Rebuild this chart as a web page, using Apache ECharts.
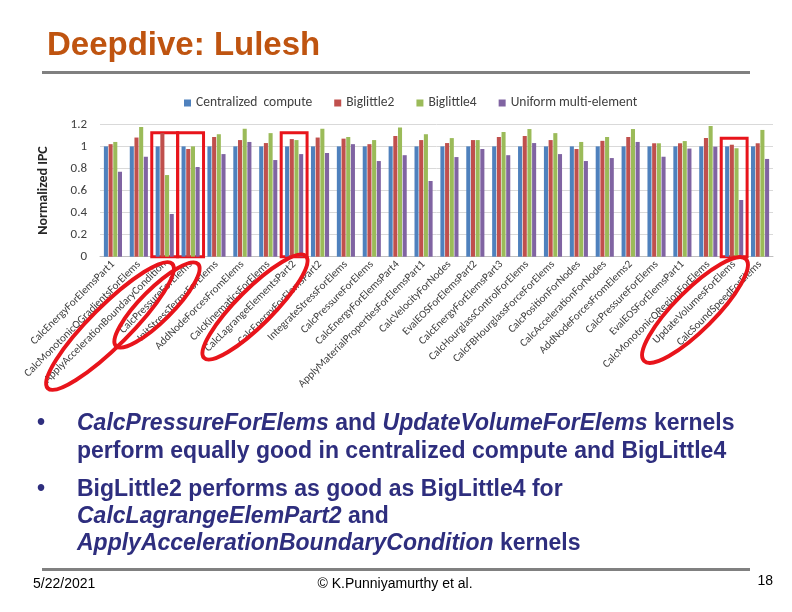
<!DOCTYPE html>
<html>
<head>
<meta charset="utf-8">
<script src="https://cdn.jsdelivr.net/npm/echarts@6/dist/echarts.min.js"></script>
<style>
html,body{margin:0;padding:0;background:#fff;}
#chart{width:792px;height:612px;}
</style>
</head>
<body>
<div id="chart"></div>
<script>
var categories = [
  'CalcEnergyForElemsPart1','CalcMonotonicQGradientsForElems','ApplyAccelerationBoundaryCondition',
  'CalcPressureForElems','InitStressTermsForElems','AddNodeForcesFromElems','CalcKinematicsForElems',
  'CalcLagrangeElementsPart2','CalcEnergyForElemsPart2','IntegrateStressForElems','CalcPressureForElems',
  'CalcEnergyForElemsPart4','ApplyMaterialPropertiesForElemsPart1','CalcVelocityForNodes',
  'EvalEOSForElemsPart2','CalcEnergyForElemsPart3','CalcHourglassControlForElems',
  'CalcFBHourglassForceForElems','CalcPositionForNodes','CalcAccelerationForNodes',
  'AddNodeForcesFromElems2','CalcPressureForElems','EvalEOSForElemsPart1',
  'CalcMonotonicQRegionForElems','UpdateVolumesForElems','CalcSoundSpeedForElems'
];
var seriesNames = ['Centralized  compute','Biglittle2','Biglittle4','Uniform multi-element'];
var centralized = [1,1,1,1,1,1,1,1,1,1,1,1,1,1,1,1,1,1,1,1,1,1,1,1,1,1];
var biglittle2 = [1.02,1.08,1.12,0.976,1.085,1.057,1.03,1.066,1.08,1.07,1.02,1.094,1.057,1.03,1.057,1.085,1.094,1.057,0.976,1.05,1.085,1.028,1.028,1.076,1.015,1.028];
var biglittle4 = [1.04,1.175,0.74,1.0,1.11,1.16,1.12,1.057,1.16,1.085,1.057,1.17,1.11,1.075,1.057,1.13,1.157,1.12,1.04,1.085,1.157,1.028,1.048,1.185,0.983,1.149];
var uniform = [0.77,0.906,0.387,0.813,0.93,1.04,0.876,0.93,0.94,1.02,0.867,0.92,0.686,0.903,0.976,0.92,1.03,0.93,0.867,0.894,1.04,0.906,0.98,0.997,0.514,0.886];
var yTicks = {min:0, max:1.2, interval:0.2};
var highlighted = [2, 3, 7, 24];
var highlightTop = [1.124, 1.124, 1.124, 1.073];

var colors = ['#4F81BD','#C0504D','#9BBB59','#8064A2'];
var RED = '#E8141B';
var NAVY = '#2E2E7E';
var LBL = 'Carlito, Lato, sans-serif';

var chart = echarts.init(document.getElementById('chart'), null, {renderer:'canvas'});

var boxData = highlighted.map(function(idx, k){
  return [{xAxis: idx, yAxis: highlightTop[k]}, {xAxis: idx, yAxis: 0}];
});

function bar(name, data, color, withBoxes){
  var s = {
    name: name, type: 'bar', data: data,
    barGap: '15%', barCategoryGap: '30%',
    itemStyle: {color: color},
    emphasis: {disabled: true},
    animation: false
  };
  if (withBoxes) {
    s.markArea = {
      silent: true,
      itemStyle: {color: 'rgba(0,0,0,0)', borderColor: RED, borderWidth: 3},
      label: {show: false},
      data: boxData
    };
  }
  return s;
}

var bulletFont = {fontFamily: '"Liberation Sans", Arial, sans-serif', fontSize: 23, fontWeight: 'bold'};
function txt(x, y, text, extra){
  var st = Object.assign({
    text: text, fill: NAVY, textAlign: 'left', textVerticalAlign: 'middle',
    rich: {i: Object.assign({fontStyle: 'italic', fill: NAVY}, bulletFont),
           n: Object.assign({fill: NAVY}, bulletFont)}
  }, bulletFont, extra || {});
  return {type: 'text', x: x, y: y, silent: true, style: st};
}
function ell(cx, cy, rx, ry){
  return {type: 'ellipse', x: cx, y: cy, rotation: Math.PI/4, silent: true, z: 100,
          shape: {cx: 0, cy: 0, rx: rx, ry: ry},
          style: {fill: null, stroke: RED, lineWidth: 4}};
}
var footFont = '"Liberation Sans Narrow", "Liberation Sans", Arial, sans-serif';

var option = {
  animation: false,
  textStyle: {fontFamily: LBL},
  legend: {
    top: 91, left: 179,
    icon: 'rect', itemWidth: 7, itemHeight: 7, itemGap: 22,
    textStyle: {fontSize: 13.5, color: '#404040', fontFamily: LBL},
    data: seriesNames
  },
  grid: {left: 100, right: 19, top: 124.3, bottom: 355.3, containLabel: false},
  xAxis: {
    type: 'category', data: categories,
    axisTick: {show: false},
    axisLine: {lineStyle: {color: '#BFBFBF'}},
    axisLabel: {interval: 0, rotate: 45, fontSize: 11, color: '#404040', margin: 6, fontFamily: LBL}
  },
  yAxis: {
    type: 'value', min: yTicks.min, max: yTicks.max, interval: yTicks.interval,
    name: 'Normalized IPC', nameLocation: 'middle', nameGap: 50, nameRotate: 90,
    nameTextStyle: {fontWeight: 'bold', fontSize: 14, color: '#262626', fontFamily: LBL},
    axisLine: {show: false}, axisTick: {show: false},
    axisLabel: {fontSize: 13, color: '#404040', margin: 13, fontFamily: LBL},
    splitLine: {lineStyle: {color: '#D9D9D9'}}
  },
  series: [
    bar(seriesNames[0], centralized, colors[0], true),
    bar(seriesNames[1], biglittle2, colors[1]),
    bar(seriesNames[2], biglittle4, colors[2]),
    bar(seriesNames[3], uniform, colors[3])
  ],
  graphic: [
    {type: 'text', x: 47, y: 46, silent: true,
     style: {text: 'Deepdive: Lulesh', fill: '#BF5410', textAlign: 'left', textVerticalAlign: 'middle',
             fontFamily: '"Liberation Sans", Arial, sans-serif', fontSize: 33, fontWeight: 'bold'}},
    {type: 'rect', silent: true, shape: {x: 42, y: 71, width: 708, height: 3}, style: {fill: '#808080'}},
    ell(110, 326, 88, 20),
    ell(157, 305, 58, 16),
    ell(255, 307, 72, 18),
    ell(695, 310, 72, 20),
    txt(37, 424, '•'),
    txt(77, 424, '{i|CalcPressureForElems}{n| and }{i|UpdateVolumeForElems}{n| kernels}'),
    txt(77, 452, 'perform equally good in centralized compute and BigLittle4'),
    txt(37, 490, '•'),
    txt(77, 490, 'BigLittle2 performs as good as BigLittle4 for'),
    txt(77, 517, '{i|CalcLagrangeElemPart2}{n| and}'),
    txt(77, 544, '{i|ApplyAccelerationBoundaryCondition}{n| kernels}'),
    {type: 'rect', silent: true, shape: {x: 42, y: 568, width: 708, height: 3}, style: {fill: '#808080'}},
    {type: 'text', x: 33, y: 584, silent: true,
     style: {text: '5/22/2021', fill: '#000', textAlign: 'left', textVerticalAlign: 'middle',
             fontFamily: footFont, fontSize: 14}},
    {type: 'text', x: 395, y: 584, silent: true,
     style: {text: '© K.Punniyamurthy et al.', fill: '#000', textAlign: 'center', textVerticalAlign: 'middle',
             fontFamily: footFont, fontSize: 14}},
    {type: 'text', x: 773, y: 581, silent: true,
     style: {text: '18', fill: '#000', textAlign: 'right', textVerticalAlign: 'middle',
             fontFamily: footFont, fontSize: 14}}
  ]
};
chart.setOption(option);
</script>
</body>
</html>
